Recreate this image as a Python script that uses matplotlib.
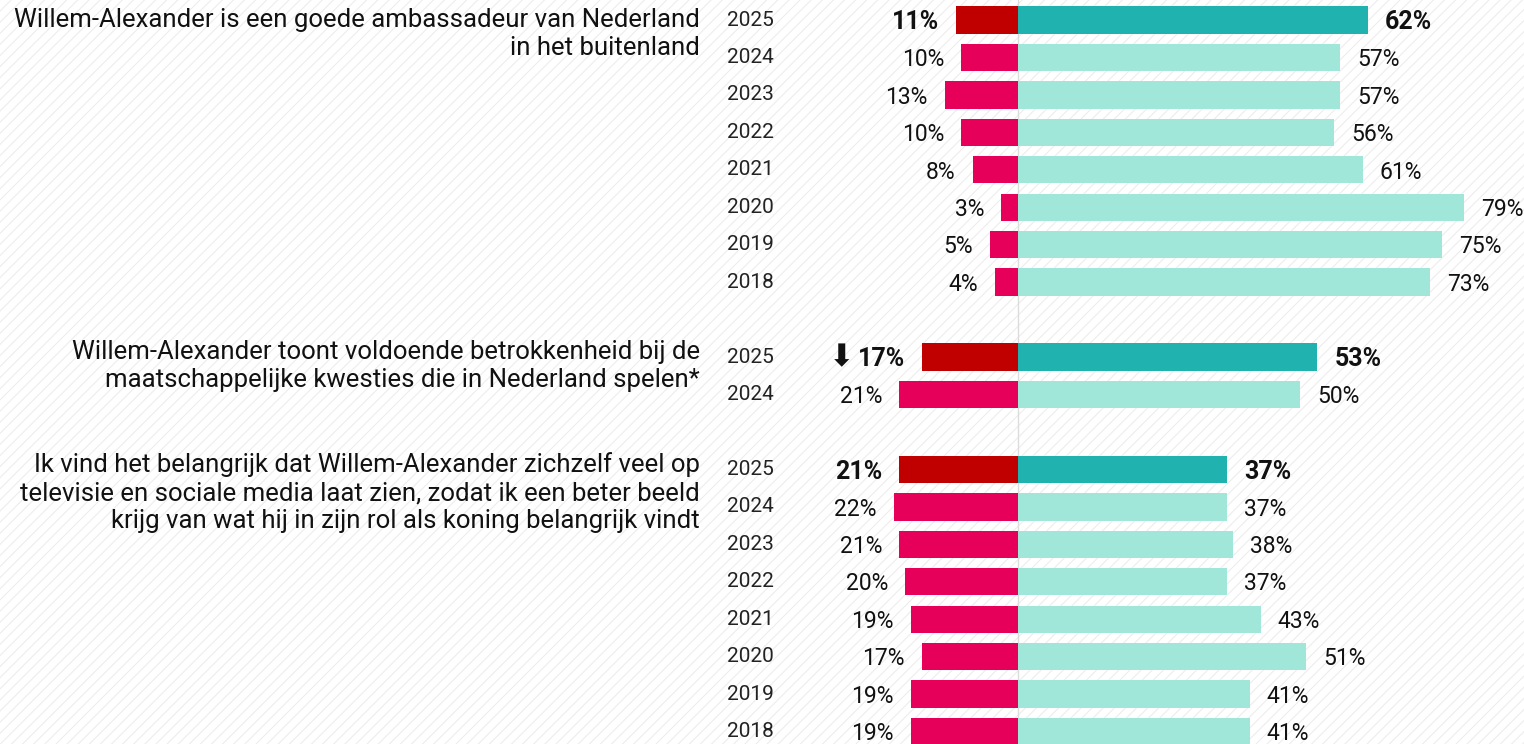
import numpy as np
import matplotlib.pyplot as plt
from matplotlib.patches import Rectangle

plt.rcParams['font.family'] = ['Roboto', 'DejaVu Sans']
plt.rcParams['hatch.linewidth'] = 0.8

# data
statements = [
    "Willem-Alexander is een goede ambassadeur van Nederland\nin het buitenland",
    "Willem-Alexander toont voldoende betrokkenheid bij de\nmaatschappelijke kwesties die in Nederland spelen*",
    "Ik vind het belangrijk dat Willem-Alexander zichzelf veel op\ntelevisie en sociale media laat zien, zodat ik een beter beeld\nkrijg van wat hij in zijn rol als koning belangrijk vindt",
]
years_1 = [2025, 2024, 2023, 2022, 2021, 2020, 2019, 2018]
neg_1 = [11, 10, 13, 10, 8, 3, 5, 4]
pos_1 = [62, 57, 57, 56, 61, 79, 75, 73]

years_2 = [2025, 2024]
neg_2 = [17, 21]
pos_2 = [53, 50]

years_3 = [2025, 2024, 2023, 2022, 2021, 2020, 2019, 2018]
neg_3 = [21, 22, 21, 20, 19, 17, 19, 19]
pos_3 = [37, 37, 38, 37, 43, 51, 41, 41]

groups = [(years_1, neg_1, pos_1), (years_2, neg_2, pos_2), (years_3, neg_3, pos_3)]

NEG_NOW, NEG_OLD = '#c00000', '#e6005a'
POS_NOW, POS_OLD = '#20b2ae', '#a0e6d9'

W, H = 1524, 744
fig = plt.figure(figsize=(W / 100, H / 100), dpi=100)
fig.patch.set_facecolor('white')
bg = Rectangle((0, 0), 1, 1, transform=fig.transFigure, facecolor='white',
               edgecolor='#ededed', hatch='///', linewidth=0, zorder=-5)
fig.patches.append(bg)

ax = fig.add_axes([0, 0, 1, 1], zorder=2)
ax.patch.set_alpha(0)
px = 5.65          # pixels per percent
x0 = 1018          # zero line pixel
pitch = 37.45      # row pitch in pixels
ax.set_xlim(-x0 / px, (W - x0) / px)
ax.set_ylim((H - 20) / pitch, -20 / pitch)
ax.axis('off')

ax.axvline(0, color='#dcdcdc', lw=1, zorder=1)

row = 0
starts = []
for years, neg, pos in groups:
    starts.append(row)
    for i, (yr, n, p) in enumerate(zip(years, neg, pos)):
        y = row + i
        now = i == 0
        ax.barh(y, -n, height=0.73, color=NEG_NOW if now else NEG_OLD, zorder=2)
        ax.barh(y, p, height=0.73, color=POS_NOW if now else POS_OLD, zorder=2)
        fw = 'bold' if now else 'normal'
        fs = 18 if now else 16.5
        ax.text(-n - 3.0, y + 0.06, f"{n}%", ha='right', va='center',
                fontsize=fs, fontweight=fw, color='#111111')
        ax.text(p + 3.0, y + 0.06, f"{p}%", ha='left', va='center',
                fontsize=fs, fontweight=fw, color='#111111')
        ax.text((727 - x0) / px, y, str(yr), ha='left', va='center',
                fontsize=15, color='#222222')
    row += len(years) + 1

# drop arrow next to the 2025 value of statement 2
ax.text(-17 - 3.0 - 9.0, starts[1] + 0.02, "\u2b07", ha='right', va='center',
        fontsize=22, color='#111111', family='DejaVu Sans')

text_shift = [0, -5, -5]   # px offset of first line centre vs. first row
for s, st, dy in zip(statements, starts, text_shift):
    ax.text((700 - x0) / px, st + (dy - 12) / pitch, s, ha='right', va='top',
            fontsize=18.5, color='#111111', linespacing=1.2)

fig.savefig('out.png', dpi=100)
